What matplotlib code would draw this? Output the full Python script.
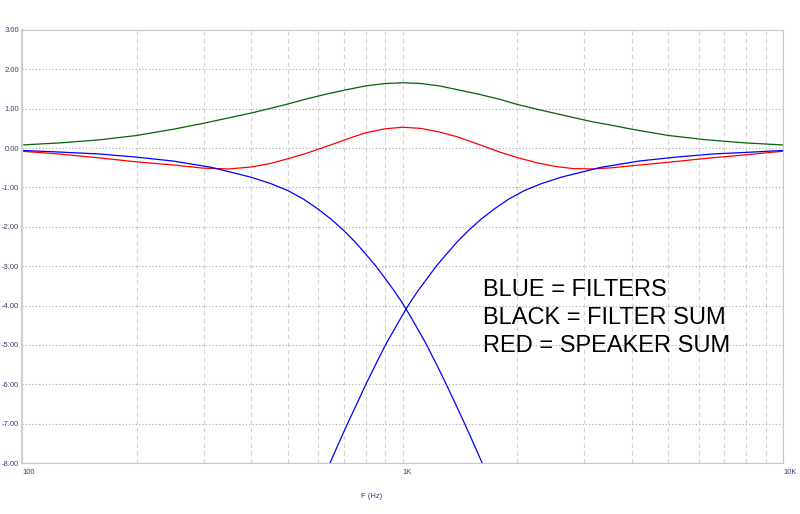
## crossover filter plot
import matplotlib
matplotlib.use('Agg')
import matplotlib.pyplot as plt
from matplotlib.ticker import FixedLocator, NullFormatter

plt.rcParams['font.family'] = ['Liberation Sans', 'DejaVu Sans']

## data (frequency in Hz, level in dB)
lp_freq = [100, 125, 160, 200, 250, 315, 400, 450, 500, 550, 600, 650, 700,
           750, 800, 850, 900, 950, 1000, 1050, 1100, 1150, 1200, 1250, 1300,
           1375, 1450, 1540, 1630]
lp_db = [-0.06, -0.10, -0.15, -0.23, -0.33, -0.49, -0.74, -0.90, -1.08, -1.30,
         -1.55, -1.81, -2.09, -2.38, -2.69, -2.99, -3.31, -3.62, -3.94, -4.28,
         -4.62, -4.95, -5.30, -5.64, -5.98, -6.48, -6.96, -7.52, -8.06]

hp_freq = [641, 678, 720, 760, 803, 836, 870, 908, 950, 995, 1044, 1099, 1161,
           1229, 1306, 1393, 1492, 1607, 1741, 1899, 2089, 2321, 2611, 3316,
           4178, 5222, 6528, 8356, 10000]
hp_db = [-8.06, -7.52, -6.96, -6.48, -5.98, -5.64, -5.30, -4.95, -4.62, -4.28,
         -3.94, -3.62, -3.31, -2.99, -2.69, -2.38, -2.09, -1.81, -1.55, -1.30,
         -1.08, -0.90, -0.74, -0.49, -0.33, -0.23, -0.15, -0.10, -0.06]

sum_freq = [100, 125, 160, 200, 250, 300, 350, 400, 450, 500, 560, 630, 710,
            800, 900, 1000, 1120, 1250, 1400, 1600, 1800, 2000, 2250, 2500,
            2800, 3150, 3550, 4000, 5000, 6300, 8000, 10000]
speaker_sum = [-0.08, -0.15, -0.25, -0.35, -0.43, -0.51, -0.53, -0.48, -0.39,
               -0.27, -0.13, 0.04, 0.22, 0.39, 0.49, 0.53, 0.50, 0.41, 0.28,
               0.08, -0.10, -0.24, -0.37, -0.46, -0.52, -0.53, -0.50, -0.45,
               -0.36, -0.26, -0.17, -0.08]
filter_sum = [0.08, 0.13, 0.21, 0.32, 0.48, 0.63, 0.77, 0.89, 1.01, 1.12, 1.25,
              1.37, 1.48, 1.58, 1.64, 1.66, 1.64, 1.58, 1.48, 1.36, 1.24, 1.11,
              0.99, 0.89, 0.78, 0.67, 0.58, 0.48, 0.32, 0.21, 0.13, 0.08]

x_ticks = [100, 1000, 10000]
x_ticklabels = ['100', '1K', '10K']
y_ticks = [3, 2, 1, 0, -1, -2, -3, -4, -5, -6, -7, -8]

notes = ['BLUE = FILTERS', 'BLACK = FILTER SUM', 'RED = SPEAKER SUM']

## plot
fig = plt.figure(figsize=(8, 5.14), dpi=100)
ax = fig.add_axes([22 / 800, 1 - 463 / 514, 761 / 800, 433 / 514])

ax.plot(sum_freq, filter_sum, color='#006400', lw=0.9)
ax.plot(sum_freq, speaker_sum, color='#ff0000', lw=0.9)
ax.plot(lp_freq, lp_db, color='#0000ff', lw=0.9)
ax.plot(hp_freq, hp_db, color='#0000ff', lw=0.9)

ax.set_xscale('log')
ax.set_xlim(100, 10000)
ax.set_ylim(-8, 3)

ax.xaxis.set_major_locator(FixedLocator(x_ticks))
ax.xaxis.set_minor_locator(FixedLocator(
    [m * d for d in (100, 1000) for m in range(2, 10)]))
ax.xaxis.set_minor_formatter(NullFormatter())
ax.set_xticklabels(x_ticklabels)
ax.set_yticks(y_ticks)
ax.set_yticklabels(['%.2f' % v for v in y_ticks])

tick_col = '#3c3c7a'
ax.tick_params(axis='both', which='both', length=0, labelsize=5.5,
               labelcolor=tick_col)
ax.tick_params(axis='y', pad=2)
ax.tick_params(axis='x', pad=4)
for lab in ax.get_xticklabels():
    lab.set_horizontalalignment('left')

# grid: dotted horizontal, dashed vertical
ax.yaxis.grid(True, color='#a8a8a8', linestyle=(0, (1, 2)), lw=0.8)
ax.xaxis.grid(True, which='both', color='#d4d4d4', linestyle=(0, (4, 3)), lw=0.8)
ax.set_axisbelow(True)

for side in ('top', 'right', 'bottom'):
    ax.spines[side].set_color('#c8c8c8')
    ax.spines[side].set_linewidth(0.8)
ax.spines['left'].set_color('#d0d0d0')
ax.spines['left'].set_linewidth(1.6)

fig.text(372 / 800, 1 - 497 / 514, 'F (Hz)', fontsize=5.5, color=tick_col,
         ha='center', va='center')

for i, t in enumerate(notes):
    ax.text(0.606, (463 - 290 - 28 * i) / 433, t, transform=ax.transAxes,
            fontsize=17, color='black', ha='left', va='center')

fig.savefig('out.png', dpi=100)
